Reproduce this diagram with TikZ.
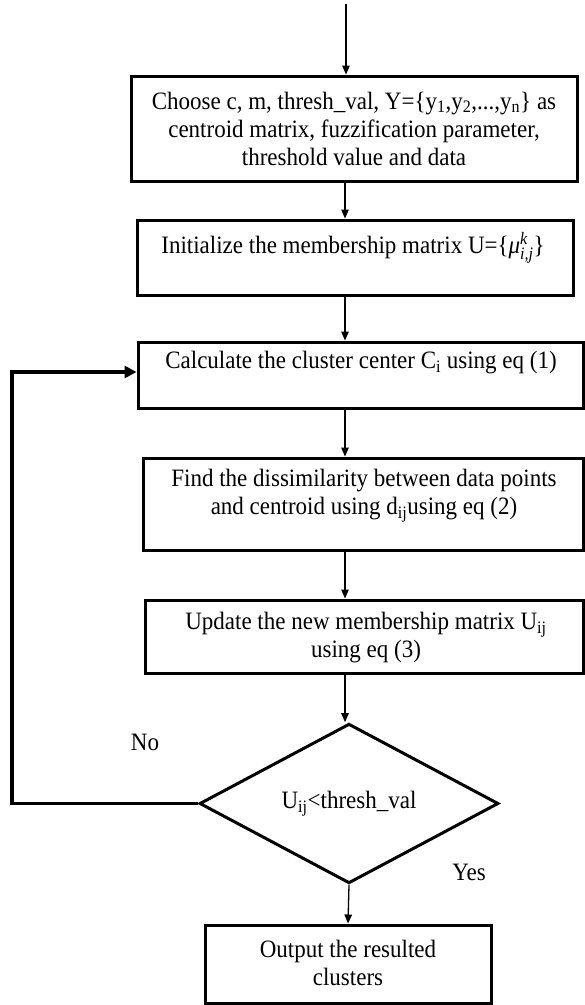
\documentclass[tikz,border=0pt]{standalone}
\usepackage{fontspec}
\setmainfont{Liberation Serif}[FakeStretch=0.92]
\usepackage{amsmath}
\usetikzlibrary{shapes.geometric,arrows.meta}
\begin{document}
\begin{tikzpicture}[x=1pt,y=-1pt,
  box/.style={draw, line width=3pt, rectangle, inner sep=0pt},
  txt/.style={align=center, inner sep=0pt, font=\fontsize{25}{28}\selectfont},
  flow/.style={line width=1.3pt, -{Triangle[length=9pt,width=7.5pt]}},
  back/.style={line width=3.5pt, -{Triangle[length=12pt,width=12pt]}},
]
\fill[white] (0,0) rectangle (585,1005);
\useasboundingbox (0,0) rectangle (585,1005);

% process boxes
\node[box, minimum width=446pt, minimum height=105pt] (b1) at (354,128.5) {};
\node[box, minimum width=436pt, minimum height=75pt]  (b2) at (355,257.5) {};
\node[box, minimum width=445pt, minimum height=66pt]  (b3) at (360.5,375) {};
\node[box, minimum width=440pt, minimum height=92pt]  (b4) at (363,504) {};
\node[box, minimum width=438pt, minimum height=73pt]  (b5) at (364,636.5) {};
\node[box, minimum width=286pt, minimum height=78pt]  (out) at (348,964) {};

% box texts
\node[txt] (t1) at (354,128.5) {Choose c, m, thresh\_val, Y=\{y\textsubscript{1},y\textsubscript{2},...,y\textsubscript{n}\} as\\centroid matrix, fuzzification parameter,\\threshold value and data};
\node[txt] (t2) at (353,248) {Initialize the membership matrix U=\{{\itshape μ}$^{\text{\itshape k}}_{\text{\itshape i,j}}$\}};
\node[txt] (t3) at (361,363) {Calculate the cluster center C\textsubscript{i} using eq (1)};
\node[txt] (t4) at (364,496) {Find the dissimilarity between data points\\and centroid using d\textsubscript{ij}using eq (2)};
\node[txt] (t5) at (366,638) {Update the new membership matrix U\textsubscript{ij}\\using eq (3)};
\node[txt] (t6) at (348,963) {Output the resulted\\clusters};

% decision
\node[draw, diamond, line width=3pt, minimum width=299pt, minimum height=147pt,
      txt] (d) at (349,803.5) {U\textsubscript{ij}<thresh\_val};
\node[txt] (no) at (145,742) {No};
\node[txt] (yes) at (469,872) {Yes};

% connectors
\coordinate (axis) at (345,0);
\coordinate (top) at (346,4);
\coordinate (lx) at (12,0);
\draw[flow] (top) -- (top |- b1.north);
\draw[flow] (b1.south -| axis) -- (b2.north -| axis);
\draw[flow] (b2.south -| axis) -- (b3.north -| axis);
\draw[flow] (b3.south -| axis) -- (b4.north -| axis);
\draw[flow] (b4.south -| axis) -- (b5.north -| axis);
\draw[flow] (b5.south -| axis) -- (d.north -| axis);
\draw[flow] (d.south) -- (out.north);
\draw[back] (d.west) -- (d.west -| lx) |- ([yshift=3pt]b3.west);
\end{tikzpicture}
\end{document}
